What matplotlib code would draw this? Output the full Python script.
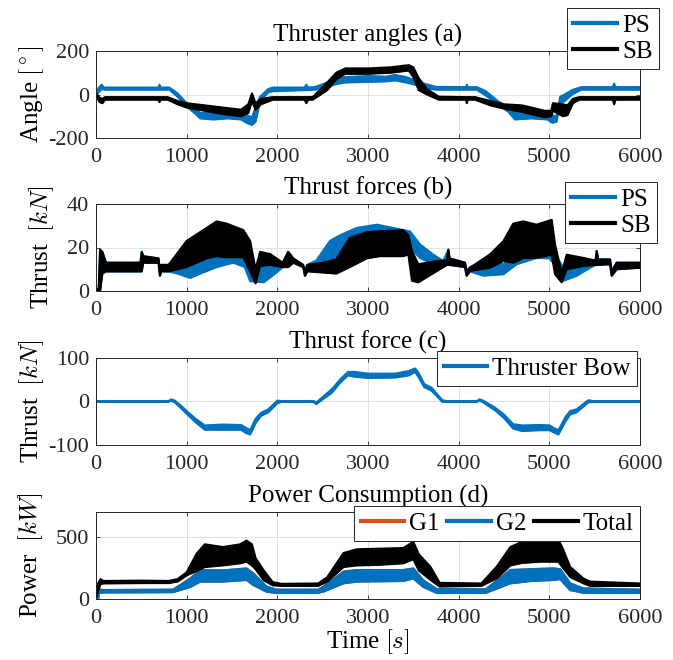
import matplotlib
matplotlib.use("Agg")
import matplotlib.pyplot as plt
import numpy as np

#------------------------------#
# Data (envelopes: time, lower, upper)
#------------------------------#

# (a) Thruster angles [deg]
ps_a_t  = [0, 30, 60, 90, 690, 700, 715, 810, 900, 1000, 1100, 1150, 1300, 1450, 1600, 1660, 1720, 1760, 1810, 1900,
           1950, 2300, 2320, 2340, 2420, 2550, 2650, 2750, 3000, 3200, 3300, 3420, 3520, 3620, 3750, 4080, 4090, 4100,
           4200, 4300, 4430, 4550, 4620, 4800, 4980, 5030, 5080, 5120, 5170, 5250, 5350, 5700, 5715, 5730, 6000]
ps_a_lo = [-5, 10, 25, 22, 22, 22, 22, 22, -10, -55, -90, -110, -115, -110, -115, -130, -140, -125, -30, 10,
           15, 20, 20, 20, 22, 35, 48, 55, 58, 60, 65, 55, 45, 30, 22, 22, 22, 22,
           22, -5, -45, -80, -115, -110, -115, -130, -125, -40, -30, 0, 22, 22, 22, 22, 22]
ps_a_hi = [5, 30, 45, 32, 32, 45, 32, 32, 5, -40, -70, -85, -85, -85, -85, -95, -105, -60, -10, 25,
           32, 32, 45, 32, 35, 55, 68, 80, 85, 82, 90, 80, 65, 50, 35, 34, 45, 34,
           34, 15, -30, -60, -80, -85, -85, -95, -100, -10, 0, 20, 34, 34, 50, 34, 34]

sb_a_t  = [0, 40, 70, 100, 690, 700, 715, 790, 900, 1000, 1200, 1400, 1600, 1680, 1720, 1760, 1820, 1950, 2300, 2320,
           2340, 2390, 2550, 2650, 2750, 3000, 3250, 3450, 3500, 3560, 3650, 3780, 4080, 4090, 4100, 4180, 4350, 4500,
           4700, 4950, 5020, 5040, 5150, 5200, 5260, 5330, 5700, 5715, 5730, 6000]
sb_a_lo = [-5, -35, -40, -24, -24, -35, -24, -24, -45, -60, -75, -90, -100, -85, -30, -70, -45, -24, -24, -40,
           -24, -24, 20, 70, 95, 95, 100, 110, 80, 20, 0, -24, -24, -40, -24, -24, -50, -65,
           -80, -105, -100, -75, -100, -95, -40, -24, -24, -45, -24, -24]
sb_a_hi = [5, -15, -20, -12, -12, -12, -12, -12, -30, -40, -50, -60, -70, -45, 5, -40, -20, -12, -12, -12,
           -12, -12, 55, 100, 120, 120, 125, 135, 125, 75, 25, -10, -12, -12, -12, -12, -30, -45,
           -50, -75, -75, -40, -45, -50, -20, -12, -12, -12, -12, -12]

# (b) Thrust forces [kN]
ps_b_t  = [0, 30, 45, 70, 110, 490, 505, 520, 690, 705, 720, 800, 900, 1040, 1150, 1330, 1515, 1640, 1700, 1850,
           1990, 2060, 2120, 2175, 2285, 2305, 2330, 2430, 2580, 2690, 2875, 3100, 3390, 3463, 3574, 3720, 3830,
           3886, 3900, 4070, 4088, 4125, 4272, 4493, 4640, 4860, 5000, 5063, 5155, 5302, 5449, 5510, 5522, 5540,
           5670, 5688, 5743, 6000]
ps_b_lo = [0, 0, 0, 8, 9, 9, 9, 13, 13, 7, 9, 9, 8, 6, 8, 11, 13, 11, 4.5, 4,
           8.5, 11, 11, 13, 11, 7, 9, 11, 13, 15.6, 19.5, 21, 20, 20, 15.2, 12.3, 12.3,
           12, 12, 11, 7, 9, 7, 7.7, 12.3, 15.2, 15, 12, 4.7, 7, 10.7, 12, 12, 12,
           12.3, 7, 10, 10.7]
ps_b_hi = [0.5, 1, 19, 18, 13, 13, 18, 16, 15, 9, 12, 12, 13, 14, 15, 17, 16.5, 16, 12, 11,
           11.5, 13, 18, 15, 12, 9, 12, 14, 23, 25.6, 29, 30.5, 28, 27.4, 21.4, 16.7, 13.8,
           19, 15, 13, 9, 11, 13, 12.3, 16.7, 16.7, 17, 17, 10.7, 11.5, 13, 14, 18.4, 14.5,
           14.5, 9, 13, 13]

sb_b_t  = [0, 30, 45, 70, 110, 490, 505, 520, 690, 705, 720, 800, 1000, 1220, 1330, 1440, 1625, 1700, 1760, 1810,
           1920, 2060, 2120, 2175, 2285, 2305, 2330, 2500, 2650, 2800, 2985, 3130, 3390, 3445, 3485, 3555, 3760,
           3870, 3886, 3900, 4070, 4088, 4125, 4345, 4493, 4603, 4713, 4860, 5026, 5063, 5136, 5191, 5375, 5510,
           5522, 5540, 5670, 5688, 5743, 6000]
sb_b_lo = [0, 0, 0, 8, 9, 9, 9, 13, 13, 7, 9, 9, 11, 15, 16, 15.5, 15.5, 9, 3.5, 11.5,
           12, 11, 11, 13, 11, 7, 9, 8.5, 8, 11, 15, 16, 16, 16.8, 4.7, 4, 9.2,
           12, 12, 12, 11, 7, 9.2, 10.7, 13.8, 13, 15.2, 15.2, 16.7, 7.7, 4, 10, 11.5, 12,
           12, 12, 12.3, 7, 10, 10.7]
sb_b_hi = [0.5, 1, 19, 18, 13, 13, 18, 16, 15, 9, 12, 12, 23, 29, 32, 31, 28, 23, 10, 18,
           17, 13, 18, 15, 12, 9, 12, 13, 14.5, 24.5, 27, 27.5, 28, 25.6, 18.4, 12.3, 13.8,
           14, 19, 15, 13, 9, 10.7, 16.8, 22.9, 31, 32, 30.5, 32.7, 21.4, 8, 16.7, 15.2, 14,
           18.4, 14.5, 14.5, 9, 13, 13]

# (c) Bow thruster force [kN]
bow_t  = [0, 800, 830, 870, 950, 1000, 1100, 1200, 1400, 1600, 1650, 1700, 1760, 1820, 1900, 2000, 2050, 2400, 2430,
          2460, 2600, 2700, 2780, 2850, 3000, 3300, 3450, 3520, 3560, 3620, 3700, 3820, 3870, 4200, 4230, 4270,
          4400, 4500, 4600, 4700, 4900, 5000, 5060, 5100, 5180, 5230, 5300, 5430, 5480, 6000]
bow_lo = [-1, -1, 2, -2, -18, -28, -48, -65, -65, -65, -72, -76, -50, -33, -25, -4, -1, -1, -6,
          -1, 20, 45, 60, 57, 54, 55, 60, 68, 55, 33, 25, -1, -1, -1, 2, -2,
          -20, -38, -62, -68, -66, -66, -72, -76, -45, -30, -25, -2, -1, -1]
bow_hi = [1, 1, 5, 2, -12, -22, -40, -55, -53, -54, -60, -66, -40, -26, -18, 2, 1, 1, -2,
          3, 28, 52, 68, 68, 64, 64, 70, 76, 65, 40, 32, 3, 1, 1, 5, 2,
          -14, -30, -52, -55, -54, -55, -62, -66, -35, -22, -18, 3, 1, 1]

# (d) Power consumption [kW]
g2_t  = [0, 25, 35, 80, 850, 1040, 1150, 1400, 1660, 1735, 1880, 1990, 2450, 2510, 2730, 2875, 3390, 3500,
         3610, 3760, 4300, 4570, 4800, 5040, 5120, 5230, 5375, 6000]
g2_lo = [0, 0, 50, 52, 55, 97, 140, 140, 153, 113, 59, 48, 50, 60, 126, 140, 145, 166,
         97, 48, 50, 126, 145, 153, 160, 72, 50, 50]
g2_hi = [2, 5, 75, 72, 75, 165, 233, 230, 246, 206, 100, 75, 75, 100, 220, 233, 233, 246,
         150, 80, 78, 233, 240, 246, 240, 126, 85, 75]

# G1 sits under G2, only its start is visible
g1_t  = [0, 12, 25] + g2_t[3:]
g1_lo = [0, 40, 50] + g2_lo[3:]
g1_hi = [5, 100, 80] + g2_hi[3:]

tot_t  = [0, 20, 50, 80, 500, 800, 900, 1000, 1110, 1200, 1400, 1590, 1660, 1720, 1760, 1850, 1950, 2050, 2450,
          2550, 2730, 2875, 3130, 3390, 3500, 3560, 3690, 3790, 4250, 4420, 4570, 4700, 4900, 5100, 5140, 5230,
          5375, 5450, 6000]
tot_lo = [0, 60, 120, 125, 128, 128, 140, 190, 226, 257, 270, 287, 300, 270, 240, 150, 110, 105, 105,
          140, 257, 270, 275, 287, 320, 230, 153, 100, 105, 166, 270, 290, 300, 300, 260, 177,
          126, 105, 105]
tot_hi = [5, 120, 160, 145, 148, 145, 160, 215, 365, 440, 418, 440, 470, 440, 330, 230, 135, 122, 125,
          175, 370, 400, 405, 410, 460, 360, 258, 130, 125, 260, 418, 460, 470, 475, 420, 258,
          165, 140, 125]

#------------------------------#
# Style
#------------------------------#

blue = "#0072BD"
orange = "#D95319"
axcol = "#262626"

plt.rcParams["font.family"] = ["Liberation Serif", "DejaVu Serif"]
plt.rcParams["mathtext.fontset"] = "cm"
plt.rcParams["axes.unicode_minus"] = False
plt.rcParams["font.size"] = 16

zlevel = [1]


def band(ax, t, lo, hi, color, label=None):
	# noisy signal drawn as its envelope, each series stacked above the last
	z = zlevel[0]
	zlevel[0] += 1
	ax.fill_between(t, lo, hi, color=color, lw=0, zorder=z)
	ax.plot(t, lo, color=color, lw=1.5, zorder=z)
	ax.plot(t, hi, color=color, lw=1.5, zorder=z)
	# handle for the legend only
	ax.plot([], [], color=color, lw=3, label=label)


def style(ax, ylim, yticks, title):
	ax.set_xlim(0, 6000)
	ax.set_ylim(ylim)
	ax.set_xticks(np.arange(0, 6001, 1000))
	ax.set_yticks(yticks)
	ax.grid(True, color="#dcdcdc", lw=0.6, zorder=0)
	ax.set_axisbelow(True)
	ax.tick_params(direction="in", length=3, width=0.6, colors=axcol, labelsize=16,
	               top=True, right=True)
	ax.tick_params(axis="x", pad=7)
	ax.tick_params(axis="y", pad=5)
	for s in ax.spines.values():
		s.set_color(axcol)
		s.set_linewidth(0.7)
		s.set_zorder(50)
	ax.set_title(title, fontsize=18, pad=7)


def legend(ax, fig, right, top, ncol=1):
	leg = ax.legend(loc="upper right", bbox_to_anchor=(right / 673, 1 - top / 660),
	                bbox_transform=fig.transFigure, borderaxespad=0, ncol=ncol,
	                fontsize=18, fancybox=False, framealpha=1, edgecolor=axcol,
	                handlelength=1.75, handletextpad=0.2, labelspacing=0.15,
	                columnspacing=0.3, borderpad=0.25)
	leg.get_frame().set_linewidth(0.7)
	leg.set_zorder(100)


fig = plt.figure(figsize=(6.73, 6.6), dpi=100)

left = 96 / 673
width = (640 - 96) / 673
tops = [51, 204, 358, 512]

axs = [fig.add_axes([left, 1 - (tp + 87) / 660, width, 87 / 660]) for tp in tops]

# (a)
ax = axs[0]
band(ax, ps_a_t, ps_a_lo, ps_a_hi, blue, "PS")
band(ax, sb_a_t, sb_a_lo, sb_a_hi, "black", "SB")
style(ax, (-200, 200), [-200, 0, 200], "Thruster angles (a)")
ax.set_ylabel(r"Angle $[^\circ]$", fontsize=18, labelpad=2)
legend(ax, fig, 659, 8)

# (b)
ax = axs[1]
band(ax, ps_b_t, ps_b_lo, ps_b_hi, blue, "PS")
band(ax, sb_b_t, sb_b_lo, sb_b_hi, "black", "SB")
style(ax, (0, 40), [0, 20, 40], "Thrust forces (b)")
ax.set_ylabel(r"Thrust  $[kN]$", fontsize=18, labelpad=8)
legend(ax, fig, 657, 182)

# (c)
ax = axs[2]
band(ax, bow_t, bow_lo, bow_hi, blue, "Thruster Bow")
style(ax, (-100, 100), [-100, 0, 100], "Thrust force (c)")
ax.set_ylabel(r"Thrust  $[kN]$", fontsize=18, labelpad=2)
legend(ax, fig, 637, 351)

# (d)
ax = axs[3]
band(ax, g1_t, g1_lo, g1_hi, orange, "G1")
band(ax, g2_t, g2_lo, g2_hi, blue, "G2")
band(ax, tot_t, tot_lo, tot_hi, "black", "Total")
style(ax, (0, 700), [0, 500], "Power Consumption (d)")
ax.set_ylabel(r"Power  $[kW]$", fontsize=18, labelpad=8)
ax.set_xlabel(r"Time $[s]$", fontsize=18, labelpad=0)
legend(ax, fig, 640, 506, ncol=3)

fig.savefig("out.png", dpi=100)
